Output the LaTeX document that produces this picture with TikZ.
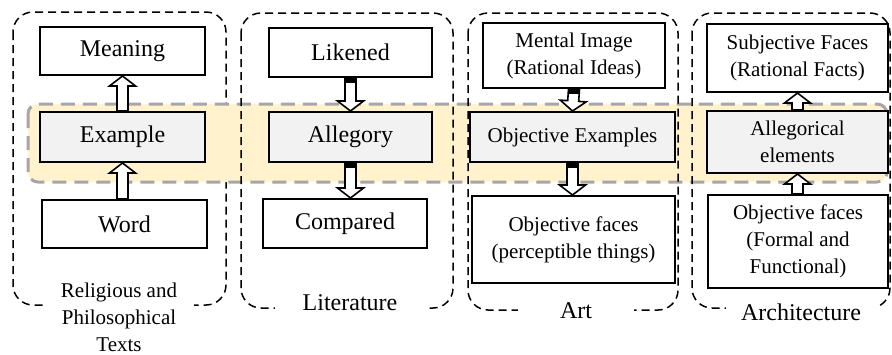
\documentclass[tikz,border=0pt]{standalone}
\usepackage{fontspec}
\setmainfont{Liberation Serif}
\usetikzlibrary{calc}

\definecolor{bandfill}{HTML}{FFF2CC}
\definecolor{bandline}{HTML}{A6A6A6}
\definecolor{boxgray}{HTML}{F2F2F2}

\tikzset{
  box/.style={draw, line width=1pt, fill=white, align=center, inner sep=0pt,
    font=\fontsize{12}{14}\selectfont},
  smallbox/.style={box, font=\fontsize{10.5}{13.5}\selectfont},
  midbox/.style={fill=boxgray},
  group/.style={draw, line width=0.75pt, dash pattern=on 4pt off 2.5pt, rounded corners=10pt},
  band/.style={draw=bandline, fill=bandfill, line width=1.5pt, dash pattern=on 7pt off 4pt, rounded corners=5pt},
  grouplabel/.style={fill=white, align=center, inner sep=1pt, minimum width=75pt,
    font=\fontsize{12}{14}\selectfont},
  arrowbody/.style={draw, fill=white, line width=0.8pt, line join=miter}
}

% hollow block arrow from #1 to the tip at #2
\newcommand\hollowarrow[2]{%
  \path (#1) coordinate (a0) (#2) coordinate (b0);
  \path ($(b0)!5pt!(a0)$) coordinate (h0);
  \draw[arrowbody] ($(a0)!2.75pt!90:(b0)$) -- ($(h0)!2.75pt!-90:(a0)$)
    -- ($(h0)!6.5pt!-90:(a0)$) -- (b0) -- ($(h0)!6.5pt!90:(a0)$)
    -- ($(h0)!2.75pt!90:(a0)$) -- ($(a0)!2.75pt!-90:(b0)$) -- cycle;}
% same, with a black cap at the start
\newcommand\cappedarrow[2]{%
  \hollowarrow{#1}{#2}
  \path ($(a0)!2.5pt!(b0)$) coordinate (c0);
  \fill ($(a0)!2.75pt!90:(b0)$) rectangle ($(c0)!2.75pt!-90:(b0)$);}

\begin{document}
\begin{tikzpicture}[x=0.5pt,y=-0.5pt]
  \useasboundingbox (0,0) rectangle (892,354);

  % first frame sits under the band
  \draw[group] (13,12) rectangle (226,305);

  % shared band
  \draw[band] (28,104) rectangle (887,182);

  % other frames
  \draw[group] (241,13) rectangle (453,308);
  \draw[group] (468,13) rectangle (678,310);
  \draw[group] (692,13) rectangle (890,308);

  % religious and philosophical texts
  \node[box, minimum width=82.5pt, minimum height=24pt] (meaning) at (122.5,51) {Meaning};
  \node[box, midbox, minimum width=82.5pt, minimum height=25pt] (example) at (122.5,137) {Example};
  \node[box, minimum width=82.5pt, minimum height=24pt] (word) at (124.5,224) {Word};
  \node[grouplabel, font=\fontsize{10.5}{13.5}\selectfont] (religion) at (119,317)
    {Religious and\\Philosophical\\Texts};

  % literature
  \node[box, minimum width=81.5pt, minimum height=24.5pt] (likened) at (350.5,52.5) {Likened};
  \node[box, midbox, minimum width=81.5pt, minimum height=25pt] (allegory) at (350.5,137) {Allegory};
  \node[box, minimum width=82pt, minimum height=24.5pt] (compared) at (345,223.5) {Compared};
  \node[grouplabel] (literature) at (350,303) {Literature};

  % art
  \node[smallbox, minimum width=91pt, minimum height=32.5pt] (mental) at (574,55.5)
    {Mental Image\\(Rational Ideas)};
  \node[smallbox, midbox, minimum width=102.5pt, minimum height=25pt] (objexamples) at (572.5,137)
    {Objective Examples};
  \node[smallbox, minimum width=101.5pt, minimum height=43.5pt] (artfaces) at (573.5,239.5)
    {Objective faces\\(perceptible things)};
  \node[grouplabel, minimum width=58pt] (art) at (576,311) {Art};

  % architecture
  \node[smallbox, minimum width=90.5pt, minimum height=34pt] (subjective) at (797.5,58)
    {Subjective Faces\\(Rational Facts)};
  \node[smallbox, midbox, minimum width=90.5pt, minimum height=31pt] (allegorical) at (797.5,142)
    {Allegorical\\elements};
  \node[smallbox, minimum width=90pt, minimum height=46.5pt] (archfaces) at (798,241.5)
    {Objective faces\\(Formal and\\Functional)};
  \node[grouplabel] (architecture) at (801,312) {Architecture};

  % arrows
  \hollowarrow{example.north}{meaning.south}
  \hollowarrow{example.south |- word.north}{example.south}
  \cappedarrow{likened.south}{allegory.north}
  \cappedarrow{allegory.south}{allegory.south |- compared.north}
  \cappedarrow{mental.south}{objexamples.north}
  \cappedarrow{objexamples.south}{objexamples.south |- artfaces.north}
  \hollowarrow{allegorical.north}{subjective.south}
  \hollowarrow{allegorical.south |- archfaces.north}{allegorical.south}
\end{tikzpicture}
\end{document}
